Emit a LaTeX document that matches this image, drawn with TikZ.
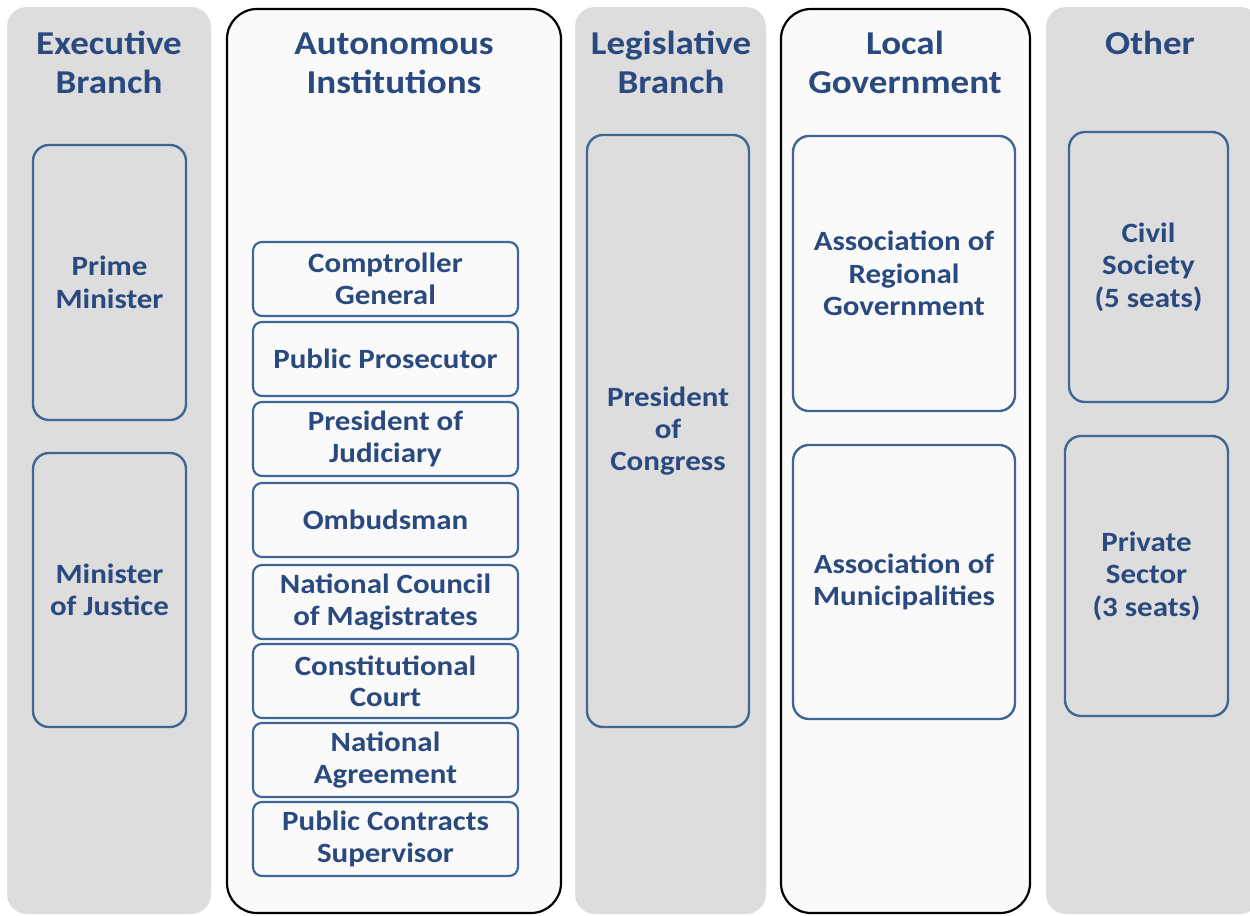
\documentclass[tikz,border=0pt]{standalone}
\usepackage{fontspec}
\setmainfont[FakeStretch=1.11]{Carlito}
\definecolor{txt}{HTML}{2A4A7F}
\definecolor{bord}{HTML}{3F6695}
\definecolor{panelgray}{HTML}{DDDDDD}
\definecolor{panelwhite}{HTML}{FAFAFA}
\begin{document}
\begin{tikzpicture}[x=1bp,y=-1bp,
  graypanel/.style={fill=panelgray, draw=none, rounded corners=20bp},
  whitepanel/.style={fill=panelwhite, draw=black, line width=2.2bp, rounded corners=30bp},
  title/.style={anchor=north, align=center, text=txt, font=\fontsize{33.5}{39}\selectfont\bfseries, inner sep=0pt},
  bigbox/.style={draw=bord, line width=2.4bp, rounded corners=16bp, align=center, text=txt,
     font=\fontsize{28}{32.5}\selectfont\bfseries, inner sep=0pt},
  smallbox/.style={draw=bord, line width=2.2bp, rounded corners=9bp, align=center, text=txt,
     font=\fontsize{28}{31.5}\selectfont\bfseries, inner sep=0pt,
     minimum width=265bp, minimum height=74bp},
]
\useasboundingbox (0,0) rectangle (1250,916);
\fill[white] (0,0) rectangle (1250,916);
% panels
\path[graypanel] (7,7) rectangle (211,914);
\path[whitepanel] (227,9) rectangle (561,913);
\path[graypanel] (575,7) rectangle (766,914);
\path[whitepanel] (781,9) rectangle (1030,913);
\path[graypanel] (1046,7) rectangle (1260,914);
% titles
\node[title] (t1) at (109,31) {Executive\\Branch};
\node[title] (t2) at (394,33) {Autonomous\\Institutions};
\node[title] (t3) at (671,31) {Legislative\\Branch};
\node[title] (t4) at (905,31) {Local\\Government};
\node[title] (t5) at (1150,31) {Other};
% executive
\node[bigbox, minimum width=153bp, minimum height=275bp] (pm) at (109.5,282.5) {Prime\\Minister};
\node[bigbox, minimum width=153bp, minimum height=274bp] (mj) at (109.5,590) {Minister\\of Justice};
% autonomous
\node[smallbox] (a1) at (385.5,279) {Comptroller\\General};
\node[smallbox] (a2) at (385.5,359) {Public Prosecutor};
\node[smallbox] (a3) at (385.5,439) {President of\\Judiciary};
\node[smallbox] (a4) at (385.5,520) {Ombudsman};
\node[smallbox] (a5) at (385.5,602) {National Council\\of Magistrates};
\node[smallbox] (a6) at (385.5,681) {Constitutional\\Court};
\node[smallbox] (a7) at (385.5,760) {National\\Agreement};
\node[smallbox] (a8) at (385.5,839) {Public Contracts\\Supervisor};
% legislative
\node[bigbox, minimum width=162bp, minimum height=592bp] (pc) at (668,431) {President\\of\\Congress};
% local government
\node[bigbox, minimum width=222bp, minimum height=275bp] (ar) at (904,273.5) {Association of\\Regional\\Government};
\node[bigbox, minimum width=222bp, minimum height=274bp] (am) at (904,582) {Association of\\Municipalities};
% other
\node[bigbox, minimum width=159bp, minimum height=270bp] (cs) at (1148.5,267) {Civil\\Society\\(5 seats)};
\node[bigbox, minimum width=163bp, minimum height=280bp] (ps) at (1146.5,576) {Private\\Sector\\(3 seats)};
\end{tikzpicture}
\end{document}
